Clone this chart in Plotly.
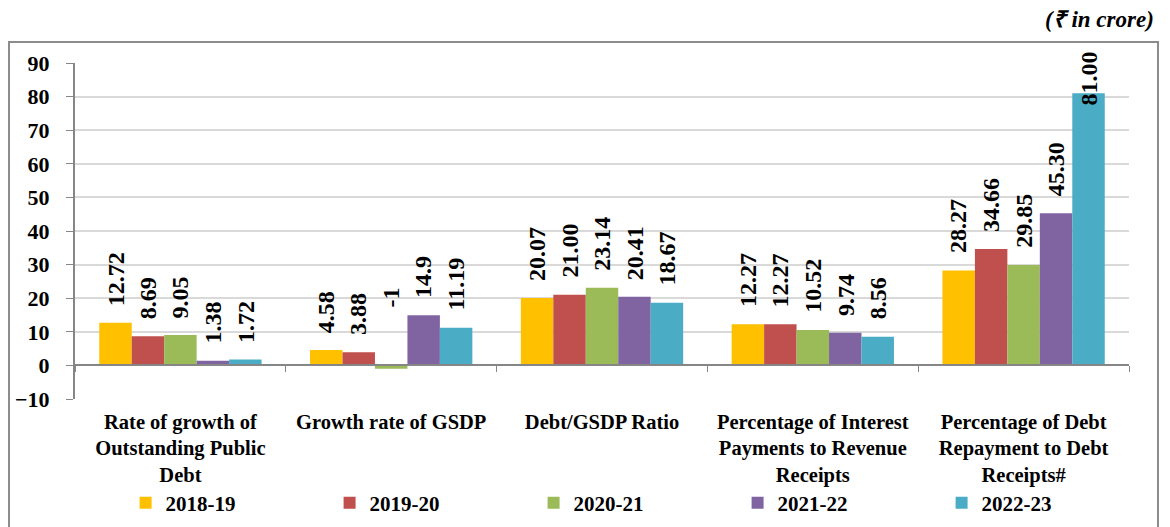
import plotly.graph_objects as go

categories = [
    "Rate of growth of<br>Outstanding Public<br>Debt",
    "Growth rate of GSDP",
    "Debt/GSDP Ratio",
    "Percentage of Interest<br>Payments to Revenue<br>Receipts",
    "Percentage of Debt<br>Repayment to Debt<br>Receipts#",
]
years = ["2018-19", "2019-20", "2020-21", "2021-22", "2022-23"]

v_2018_19 = [12.72, 4.58, 20.07, 12.27, 28.27]
v_2019_20 = [8.69, 3.88, 21.00, 12.27, 34.66]
v_2020_21 = [9.05, -1, 23.14, 10.52, 29.85]
v_2021_22 = [1.38, 14.9, 20.41, 9.74, 45.30]
v_2022_23 = [1.72, 11.19, 18.67, 8.56, 81.00]

t_2018_19 = ["12.72", "4.58", "20.07", "12.27", "28.27"]
t_2019_20 = ["8.69", "3.88", "21.00", "12.27", "34.66"]
t_2020_21 = ["9.05", "-1", "23.14", "10.52", "29.85"]
t_2021_22 = ["1.38", "14.9", "20.41", "9.74", "45.30"]
t_2022_23 = ["1.72", "11.19", "18.67", "8.56", "81.00"]

series = [v_2018_19, v_2019_20, v_2020_21, v_2021_22, v_2022_23]
labels = [t_2018_19, t_2019_20, t_2020_21, t_2021_22, t_2022_23]
colors = ["#FFC000", "#C0504D", "#9BBB59", "#8064A2", "#4BACC6"]

FONT = "Liberation Serif, Times New Roman, serif"
BARGAP = 0.23
YMIN, YMAX = -10, 90

fig = go.Figure()
xs = list(range(len(categories)))

for i, (name, vals) in enumerate(zip(years, series)):
    fig.add_trace(go.Bar(
        x=xs, y=vals, name=name,
        marker=dict(color=colors[i], line=dict(width=0)),
    ))

# invisible trace so the zero-line axis with category ticks gets drawn
fig.add_trace(go.Scatter(x=[-0.5, 4.5], y=[0, 0], xaxis="x2", mode="lines",
                         line=dict(width=0), showlegend=False, hoverinfo="skip"))

# rotated data labels
w = (1 - BARGAP) / len(years)
for i, (vals, txts) in enumerate(zip(series, labels)):
    for j, (v, t) in enumerate(zip(vals, txts)):
        xpos = j + (i - 2) * w
        if v > YMAX - 21:
            fig.add_annotation(x=xpos, y=YMAX, text=t, textangle=-90, showarrow=False,
                               yanchor="top", yshift=13,
                               font=dict(size=24, color="black", family=FONT, weight=700))
        else:
            fig.add_annotation(x=xpos, y=max(v, 0), text=t, textangle=-90, showarrow=False,
                               yanchor="bottom", yshift=56 if v < 0 else 15,
                               font=dict(size=24, color="black", family=FONT, weight=700))

# page has an 8px body margin, so the figure is offset by 8px; the bottom runs past the window
fig.update_layout(
    width=1162, height=560,
    margin=dict(l=67, r=41, t=55, b=169),
    paper_bgcolor="white", plot_bgcolor="white",
    font=dict(family=FONT, size=21, color="black", weight=700),
    barmode="group", bargap=BARGAP, bargroupgap=0,
    showlegend=True,
    legend=dict(orientation="h", x=0.048, xanchor="left", y=-0.31, yanchor="middle",
                bgcolor="rgba(0,0,0,0)",
                font=dict(size=21, family=FONT, weight=700),
                entrywidth=159, itemwidth=30, traceorder="normal"),
    xaxis=dict(
        tickmode="array", tickvals=xs, ticktext=categories,
        range=[-0.5, 4.5], showgrid=False, showline=False, zeroline=False,
        ticks="", ticklabelstandoff=8, automargin=False,
        tickfont=dict(size=20.5, family=FONT, weight=700),
    ),
    xaxis2=dict(
        overlaying="x", anchor="free", position=(0 - YMIN) / (YMAX - YMIN),
        range=[-0.5, 4.5], tickmode="array", tickvals=[k - 0.5 for k in range(6)],
        showticklabels=False, ticks="outside", ticklen=6, tickcolor="#868686",
        showline=True, linecolor="#868686", linewidth=2, showgrid=False, zeroline=False,
    ),
    yaxis=dict(
        range=[YMIN, YMAX], dtick=10, showgrid=True, gridcolor="#D9D9D9", gridwidth=1.5,
        showline=True, linecolor="#868686", linewidth=2, zeroline=False,
        ticks="outside", ticklen=7, tickcolor="#868686", ticklabelstandoff=12,
        automargin=False,
        tickfont=dict(size=22, family=FONT, weight=700),
    ),
)

# outer frame of the chart
fig.add_shape(type="rect", xref="paper", yref="paper",
              x0=-0.0626, x1=1.0275, y0=-0.45, y1=1.0625,
              line=dict(color="#8C8C8C", width=2), fillcolor="rgba(0,0,0,0)", layer="below")

fig.add_annotation(xref="paper", yref="paper", x=1.0256, y=1.128, xanchor="right", yanchor="middle",
                   text="<i>(₹ in crore)</i>", showarrow=False,
                   font=dict(size=23, family=FONT, color="black", weight=700))

fig.write_html("out.html")
